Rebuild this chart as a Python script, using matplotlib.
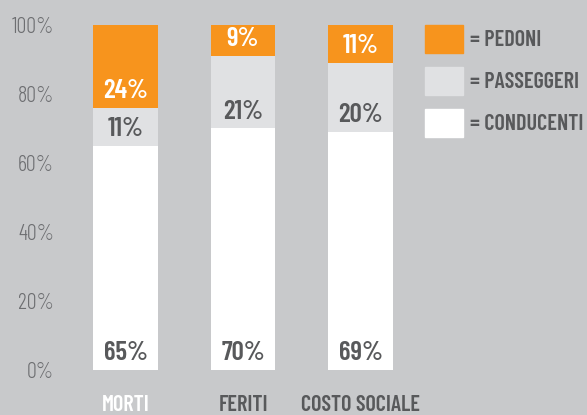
import matplotlib.pyplot as plt
from matplotlib.patches import Patch
from matplotlib.transforms import blended_transform_factory

# data
categories = ['MORTI', 'FERITI', 'COSTO SOCIALE']
conducenti = [65, 70, 69]
passeggeri = [11, 21, 20]
pedoni = [24, 9, 11]
yticks = [0, 20, 40, 60, 80, 100]

bg = '#c8c9cb'
orange = '#f7941d'
light = '#e0e1e3'
dark = '#58595b'
tickgrey = '#6d6e71'

plt.rcParams['font.family'] = ['Barlow Condensed', 'DejaVu Sans']

fig = plt.figure(figsize=(5.87, 4.15), dpi=100, facecolor=bg)
ax = fig.add_axes([0, 45 / 415, 1, 345 / 415])
ax.set_facecolor(bg)

x = list(range(len(categories)))
w = 0.55
b1 = [0, 0, 0]
b2 = conducenti
b3 = [c + p for c, p in zip(conducenti, passeggeri)]

ax.bar(x, conducenti, w, bottom=b1, color='white')
ax.bar(x, passeggeri, w, bottom=b2, color=light)
ax.bar(x, pedoni, w, bottom=b3, color=orange)

# value labels near the bottom of each segment
for i in x:
    for val, bot, col in [(conducenti[i], b1[i], dark),
                          (passeggeri[i], b2[i], dark),
                          (pedoni[i], b3[i], 'white')]:
        ax.annotate(f'{val}%', (i, bot), xytext=(0, 3.5), textcoords='offset points',
                    ha='center', va='bottom', fontsize=19.5, fontweight=600, color=col)

# axis: pixel 125.5 -> x=0, 117.5 px per unit
ax.set_xlim(-125.5 / 117.5, (587 - 125.5) / 117.5)
ax.set_ylim(0, 100)
ax.set_yticks(yticks)
ax.set_yticklabels([f'{t}%' for t in yticks])
ax.set_xticks(x)
ax.set_xticklabels(categories)
ax.tick_params(axis='y', length=0, pad=0, labelsize=16, labelcolor=tickgrey)
ax.tick_params(axis='x', length=0, pad=18, labelsize=16)
ytr = blended_transform_factory(fig.transFigure, ax.transData)
for lbl in ax.get_yticklabels():
    lbl.set_horizontalalignment('right')
    lbl.set_x(54 / 587)
    lbl.set_transform(ytr)
    lbl.set_fontweight(300)
for lbl, col in zip(ax.get_xticklabels(), ['white', dark, dark]):
    lbl.set_color(col)
    lbl.set_fontweight(600)
for s in ax.spines.values():
    s.set_visible(False)

handles = [Patch(color=orange), Patch(color=light), Patch(color='white')]
labels = ['= PEDONI', '= PASSEGGERI', '= CONDUCENTI']
leg = fig.legend(handles, labels, loc='upper left', bbox_to_anchor=(425 / 587, 1 - 25 / 415),
                 frameon=False, borderpad=0, borderaxespad=0, handlelength=1.71,
                 handleheight=1.54, labelspacing=0.65, handletextpad=0.32,
                 prop={'size': 16, 'weight': 600})
for t in leg.get_texts():
    t.set_color(dark)

fig.savefig('out.png', dpi=100, facecolor=bg)
